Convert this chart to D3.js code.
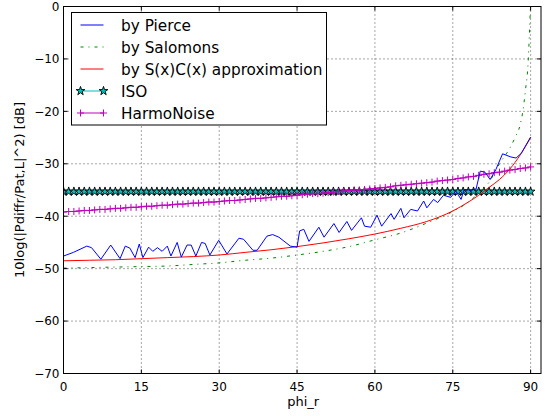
<!DOCTYPE html>
<html>
<head>
<meta charset="utf-8">
<script src="https://cdn.jsdelivr.net/npm/d3@7"></script>
<style>
  body { margin: 0; background: #fff; }
  svg { font-family: "DejaVu Sans", sans-serif; }
</style>
</head>
<body>
<svg></svg>
<script>
// angles
const phiPierce = [0, 1.9, 4.5, 5.4, 7.2, 9.1, 10.9, 11.9, 12.8, 13.8, 14.6, 15.3, 16.4, 17.2, 18.1, 19.0,
  20.0, 20.7, 21.9, 22.7, 23.8, 24.6, 25.5, 26.6, 27.3, 28.2, 29.9, 31.5, 33.8, 34.7, 36.5, 37.3,
  39.2, 40.3, 41.5, 43.7, 45.0, 45.5, 46.3, 47.3, 49.2, 50.2, 52.1, 53.1, 54.6, 55.5, 57.4, 58.0,
  59.2, 60.4, 61.3, 63.1, 63.7, 65.0, 65.6, 66.9, 68.2, 69.4, 70.0, 71.3, 72.1, 73.2, 74.6, 75.6,
  76.6, 77.2, 78.5, 79.5, 80.3, 81.2, 82.2, 83.3, 84.6, 86.2, 87.2, 88.2, 90];
const pierce = [-47.6, -46.9, -45.7, -46.0, -48.2, -45.5, -48.1, -45.7, -46.1, -47.9, -45.3, -47.9, -45.9, -46.7, -46.0, -46.7,
  -45.7, -47.6, -45.0, -47.8, -45.5, -45.5, -47.6, -45.0, -45.2, -47.4, -44.6, -47.2, -44.2, -44.4, -46.5, -46.5,
  -43.8, -43.5, -44.0, -45.7, -45.9, -42.8, -42.5, -44.8, -42.1, -44.0, -41.4, -43.1, -41.0, -42.7, -40.3, -41.9,
  -42.1, -39.8, -41.9, -39.5, -40.6, -38.5, -40.3, -38.7, -39.0, -37.1, -38.4, -36.8, -37.4, -36.0, -36.4, -35.2,
  -36.8, -34.9, -35.0, -34.8, -31.4, -31.6, -33.0, -31.1, -28.1, -28.7, -28.9, -28.0, -24.9];

const phiSalomons = [0, 5, 10, 15, 20, 25, 30, 35, 40, 45, 50, 55, 60, 65, 70, 75, 78, 80, 82, 84, 86, 87, 88, 88.5, 89, 89.5, 90];
const salomons = [-49.9, -49.8, -49.7, -49.6, -49.5, -49.2, -48.9, -48.4, -48.0, -47.4, -46.7, -45.8, -44.5, -43.2, -41.3, -39.1,
  -37.3, -35.6, -33.5, -30.0, -27.0, -25.0, -22.5, -20.0, -16.0, -11.0, 1.0];

const phiApprox = [0, 5, 10, 15, 20, 25, 30, 35, 40, 45, 50, 55, 60, 65, 70, 75, 78, 80, 82, 84, 86, 88, 90];
const approx = [-48.5, -48.4, -48.3, -48.1, -47.9, -47.7, -47.4, -46.9, -46.4, -45.8, -45.1, -44.3, -43.4, -42.3, -41.0, -39.0,
  -37.3, -36.0, -34.5, -33.0, -31.0, -28.3, -25.0];

// ISO and HarmoNoise: one marker per degree
const phiMarks = d3.range(0, 91);
const iso = [
  -35.3, -35.3, -35.3, -35.3, -35.3, -35.3, -35.3, -35.3, -35.3, -35.3, -35.3, -35.3, -35.3, -35.3, -35.3, -35.3,
  -35.3, -35.3, -35.3, -35.3, -35.3, -35.3, -35.3, -35.3, -35.3, -35.3, -35.3, -35.3, -35.3, -35.3, -35.3, -35.3,
  -35.3, -35.3, -35.3, -35.3, -35.3, -35.3, -35.3, -35.3, -35.3, -35.3, -35.3, -35.3, -35.3, -35.3, -35.3, -35.3,
  -35.3, -35.3, -35.3, -35.3, -35.3, -35.3, -35.3, -35.3, -35.3, -35.3, -35.3, -35.3, -35.3, -35.3, -35.3, -35.3,
  -35.3, -35.3, -35.3, -35.3, -35.3, -35.3, -35.3, -35.3, -35.3, -35.3, -35.3, -35.3, -35.3, -35.3, -35.3, -35.3,
  -35.3, -35.3, -35.3, -35.3, -35.3, -35.3, -35.3, -35.3, -35.3, -35.3, -35.3];
const harmo = [
  -39.2, -39.1, -39.1, -39.0, -38.9, -38.9, -38.8, -38.7, -38.7, -38.6, -38.5, -38.5, -38.4, -38.3, -38.3, -38.2,
  -38.1, -38.1, -38.0, -37.9, -37.9, -37.8, -37.7, -37.7, -37.6, -37.5, -37.5, -37.4, -37.3, -37.3, -37.2,
  -37.1, -37.0, -37.0, -36.9, -36.8, -36.7, -36.6, -36.6, -36.5, -36.4, -36.3, -36.2, -36.2, -36.1, -36.0,
  -35.9, -35.8, -35.7, -35.7, -35.6, -35.5, -35.4, -35.3, -35.2, -35.1, -35.0, -35.0, -34.9, -34.8, -34.7,
  -34.6, -34.5, -34.4, -34.2, -34.1, -34.0, -33.9, -33.8, -33.7, -33.6, -33.5, -33.3, -33.2, -33.1, -33.0,
  -32.8, -32.7, -32.5, -32.4, -32.2, -32.0, -31.9, -31.7, -31.6, -31.4, -31.2, -31.1, -30.9, -30.8, -30.6];

const xTicks = [0, 15, 30, 45, 60, 75, 90];
const yTicks = [-70, -60, -50, -40, -30, -20, -10, 0];
const legendLabels = ["by Pierce", "by Salomons", "by S(x)C(x) approximation", "ISO", "HarmoNoise"];

const width = 552;
const height = 416;
const svg = d3.select("svg").attr("width", width).attr("height", height);

const margin = { left: 63.5, top: 6.5, right: 11, bottom: 42.5 };
const graphWidth = width - margin.left - margin.right;
const graphHeight = height - margin.top - margin.bottom;

const xScale = d3.scaleLinear().domain([0, 92]).range([0, graphWidth]);
const yScale = d3.scaleLinear().domain([-70, 0]).range([graphHeight, 0]);

const g = svg.append("g").attr("transform", `translate(${margin.left}, ${margin.top})`);

g.append("clipPath").attr("id", "plot-clip")
  .append("rect").attr("width", graphWidth).attr("height", graphHeight);

// dotted grid
const grid = g.append("g").attr("stroke", "#000").attr("stroke-width", 0.7).attr("stroke-dasharray", "1,3");
grid.selectAll(".vx").data(xTicks).enter().append("line")
  .attr("x1", (d) => xScale(d)).attr("x2", (d) => xScale(d))
  .attr("y1", 0).attr("y2", graphHeight);
grid.selectAll(".hy").data(yTicks).enter().append("line")
  .attr("x1", 0).attr("x2", graphWidth)
  .attr("y1", (d) => yScale(d)).attr("y2", (d) => yScale(d));

const plot = g.append("g").attr("clip-path", "url(#plot-clip)");

const line = (xs, ys) => d3.line()
  .x((d, i) => xScale(xs[i]))
  .y((d) => yScale(d))(ys);

const starPath = d3.symbol().type(d3.symbolStar).size(24)();
const plusPath = "M-3.5,0H3.5M0,-3.5V3.5";

// ISO
plot.append("path").attr("d", line(phiMarks, iso))
  .attr("fill", "none").attr("stroke", "#00bfbf").attr("stroke-width", 1);
plot.selectAll(".star").data(iso).enter().append("path")
  .attr("d", starPath)
  .attr("transform", (d, i) => `translate(${xScale(phiMarks[i])},${yScale(d)})`)
  .attr("fill", "#00bfbf").attr("stroke", "#000").attr("stroke-width", 0.9);

// HarmoNoise
plot.append("path").attr("d", line(phiMarks, harmo))
  .attr("fill", "none").attr("stroke", "#bf00bf").attr("stroke-width", 1);
plot.selectAll(".plus").data(harmo).enter().append("path")
  .attr("d", plusPath)
  .attr("transform", (d, i) => `translate(${xScale(phiMarks[i])},${yScale(d)})`)
  .attr("fill", "none").attr("stroke", "#bf00bf").attr("stroke-width", 1);

// Salomons
plot.append("path").attr("d", d3.line().curve(d3.curveMonotoneX)
    .x((d, i) => xScale(phiSalomons[i])).y((d) => yScale(d))(salomons))
  .attr("fill", "none").attr("stroke", "#008000").attr("stroke-width", 1)
  .attr("stroke-dasharray", "3,5,1,5");

// S(x)C(x) approximation
plot.append("path").attr("d", d3.line().curve(d3.curveMonotoneX)
    .x((d, i) => xScale(phiApprox[i])).y((d) => yScale(d))(approx))
  .attr("fill", "none").attr("stroke", "#ff0000").attr("stroke-width", 1);

// Pierce
plot.append("path").attr("d", line(phiPierce, pierce))
  .attr("fill", "none").attr("stroke", "#0000ff").attr("stroke-width", 1);

// frame and inward ticks
g.append("rect").attr("width", graphWidth).attr("height", graphHeight)
  .attr("fill", "none").attr("stroke", "#000").attr("stroke-width", 1);

const ticks = g.append("g").attr("stroke", "#000").attr("stroke-width", 1);
xTicks.forEach((t) => {
  ticks.append("line").attr("x1", xScale(t)).attr("x2", xScale(t)).attr("y1", graphHeight).attr("y2", graphHeight - 4);
  ticks.append("line").attr("x1", xScale(t)).attr("x2", xScale(t)).attr("y1", 0).attr("y2", 4);
});
yTicks.forEach((t) => {
  ticks.append("line").attr("x1", 0).attr("x2", 4).attr("y1", yScale(t)).attr("y2", yScale(t));
  ticks.append("line").attr("x1", graphWidth).attr("x2", graphWidth - 4).attr("y1", yScale(t)).attr("y2", yScale(t));
});

// tick labels
g.selectAll(".xlabel").data(xTicks).enter().append("text")
  .attr("x", (d) => xScale(d)).attr("y", graphHeight + 17)
  .attr("text-anchor", "middle").attr("font-size", 12)
  .text((d) => d);
g.selectAll(".ylabel").data(yTicks).enter().append("text")
  .attr("x", -4).attr("y", (d) => yScale(d)).attr("dy", "0.36em")
  .attr("text-anchor", "end").attr("font-size", 12)
  .text((d) => (d < 0 ? "\u2212" + Math.abs(d) : d));

// axis titles
g.append("text")
  .attr("x", graphWidth / 2 + 1).attr("y", graphHeight + 32)
  .attr("text-anchor", "middle").attr("font-size", 13)
  .text("phi_r");
g.append("text")
  .attr("transform", `translate(${24 - margin.left}, ${graphHeight / 2}) rotate(-90)`)
  .attr("text-anchor", "middle").attr("font-size", 13)
  .text("10log(|Pdiffr/Pat,L|^2) [dB]");

// legend
const legend = svg.append("g").attr("transform", "translate(71.5, 12.5)");
legend.append("rect").attr("width", 255).attr("height", 112.5)
  .attr("fill", "#fff").attr("stroke", "#000").attr("stroke-width", 1);

const legendStyles = [
  { color: "#0000ff", dash: null, marker: null },
  { color: "#008000", dash: "3,5,1,5", marker: null },
  { color: "#ff0000", dash: null, marker: null },
  { color: "#00bfbf", dash: null, marker: "star" },
  { color: "#bf00bf", dash: null, marker: "plus" },
];

legendLabels.forEach((label, i) => {
  const y = 12.5 + i * 22;
  const s = legendStyles[i];
  legend.append("line").attr("x1", 9).attr("x2", 32).attr("y1", y).attr("y2", y)
    .attr("stroke", s.color).attr("stroke-width", 1)
    .attr("stroke-dasharray", s.dash);
  [9, 32].forEach((x) => {
    if (s.marker === "star") {
      legend.append("path").attr("d", starPath).attr("transform", `translate(${x},${y})`)
        .attr("fill", "#00bfbf").attr("stroke", "#000").attr("stroke-width", 0.9);
    } else if (s.marker === "plus") {
      legend.append("path").attr("d", plusPath).attr("transform", `translate(${x},${y})`)
        .attr("fill", "none").attr("stroke", s.color).attr("stroke-width", 1);
    }
  });
  legend.append("text").attr("x", 49.5).attr("y", y).attr("dy", "0.36em")
    .attr("font-size", 15.3).text(label);
});
</script>
</body>
</html>
